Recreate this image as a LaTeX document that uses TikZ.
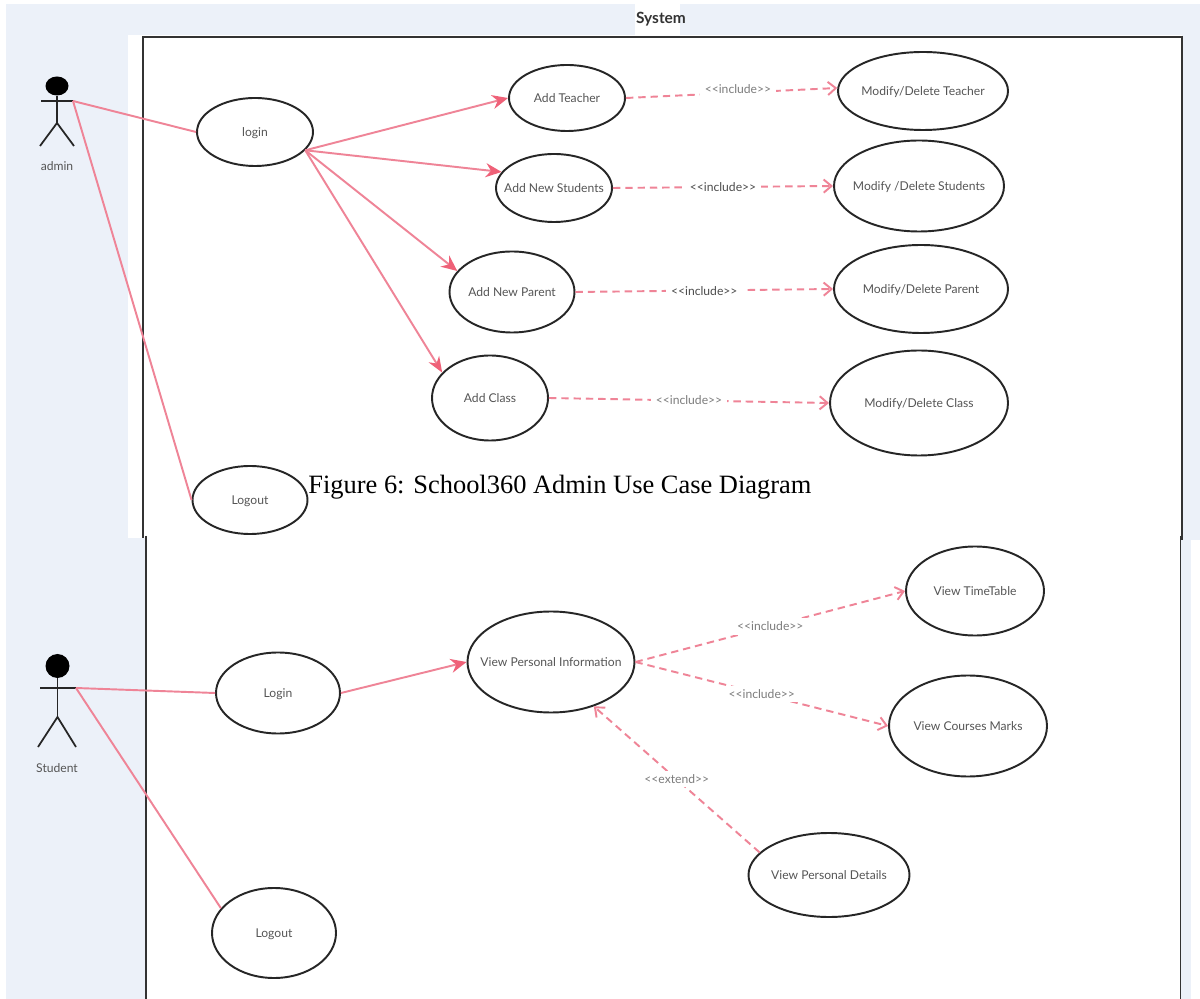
\documentclass[tikz,border=0pt]{standalone}
\usepackage{fontspec}
\setmainfont{Lato}
\newfontfamily\capfont{Liberation Serif}
\usetikzlibrary{arrows.meta,shapes.geometric}
\definecolor{pagebg}{HTML}{ECF1F9}
\definecolor{linkpink}{HTML}{EF8497}
\definecolor{tippink}{HTML}{EF6178}
\definecolor{textgrey}{HTML}{555555}
\definecolor{labelgrey}{HTML}{7C7C7C}
\tikzset{
  usecase/.style={ellipse,draw=black!85,line width=1.1pt,inner ysep=0pt,inner xsep=-8pt,text height=6.4pt,text depth=.8pt,text=textgrey,font=\fontsize{6.9}{8}\selectfont},
  actorname/.style={text=textgrey,inner sep=0pt,font=\fontsize{6.9}{8}\selectfont},
  assoc/.style={draw=linkpink,line width=1.1pt},
  gen/.style={assoc,-{Stealth[length=9pt,width=8pt,color=tippink]}},
  dep/.style={draw=linkpink,line width=1.1pt,dash pattern=on 4.2pt off 2.8pt,-{Straight Barb[length=4.5pt,width=7.5pt]}},
  deplabel/.style={fill=white,inner xsep=3pt,inner ysep=2pt,text=labelgrey,font=\fontsize{6.9}{8}\selectfont},
  stick/.style={draw=black!85,line width=1pt},
}
\begin{document}
\begin{tikzpicture}[x=0.02cm,y=-0.02cm]
      \useasboundingbox (0,0) rectangle (1200,999);
      % page
      \fill[pagebg] (6,4) rectangle (1200,999);
      \fill[white] (128,35) rectangle (1182,538);
      \fill[white] (146,538) rectangle (1180,999);
      \fill[white] (1191,540) rectangle (1200,999);
      \fill[white] (635,4) rectangle (680,35);
      \draw[black!80,line width=1.1pt] (143,538) -- (143,37) -- (1182,37) -- (1182,540);
      \draw[black!80,line width=1.1pt] (146,536) -- (146,999);
      \draw[black!80,line width=1.1pt] (1180.5,536) -- (1180.5,999);
      \node[inner sep=0pt,font=\fontsize{8.8}{10}\selectfont\bfseries,text=black!80] (system) at (661,19) {System};

      % admin actor
      \node[ellipse,fill=black,minimum width=23*0.02cm,minimum height=19*0.02cm,inner sep=0pt] (adminhead) at (57,86) {};
      \coordinate (adminhand) at (73,101);
      \coordinate (adminhip) at (57,123);
      \draw[stick] (adminhead) -- (adminhip);
      \draw[stick] (41,101) -- (adminhand);
      \draw[stick] (40,146) -- (adminhip) -- (74,146);
      \node[actorname] (admin) at (57,166) {admin};

      % student actor
      \node[circle,fill=black,minimum size=24*0.02cm,inner sep=0pt] (studenthead) at (57.5,666) {};
      \coordinate (studenthand) at (76,688);
      \coordinate (studenthip) at (57.5,717);
      \draw[stick] (studenthead) -- (studenthip);
      \draw[stick] (40,688) -- (studenthand);
      \draw[stick] (38,747) -- (studenthip) -- (76,747);
      \node[actorname] (student) at (57,768) {Student};

      % admin use cases
      \node[usecase,minimum width=116*0.02cm,minimum height=68*0.02cm] (login) at (255,132) {login};
      \node[usecase,minimum width=116*0.02cm,minimum height=66*0.02cm] (addteacher) at (567,98) {Add Teacher};
      \node[usecase,minimum width=116*0.02cm,minimum height=68*0.02cm] (addstudents) at (554,188) {Add New Students};
      \node[usecase,minimum width=125*0.02cm,minimum height=81*0.02cm] (addparent) at (512,292) {Add New Parent};
      \node[usecase,minimum width=116*0.02cm,minimum height=85*0.02cm] (addclass) at (490,398) {Add Class};
      \node[usecase,minimum width=115*0.02cm,minimum height=68*0.02cm] (logouta) at (250,500) {Logout};
      \node[usecase,minimum width=170*0.02cm,minimum height=78*0.02cm] (modteacher) at (923,91) {Modify/Delete Teacher};
      \node[usecase,minimum width=170*0.02cm,minimum height=91*0.02cm] (modstudents) at (919,186) {Modify /Delete Students};
      \node[usecase,minimum width=174*0.02cm,minimum height=88*0.02cm] (modparent) at (921,289) {Modify/Delete Parent};
      \node[usecase,minimum width=178*0.02cm,minimum height=105*0.02cm] (modclass) at (919,403) {Modify/Delete Class};

      % student use cases
      \node[usecase,minimum width=167*0.02cm,minimum height=101*0.02cm] (viewinfo) at (551,662) {View Personal Information};
      \node[usecase,minimum width=138*0.02cm,minimum height=89*0.02cm] (viewtable) at (975,591) {View TimeTable};
      \node[usecase,minimum width=158*0.02cm,minimum height=101*0.02cm] (viewmarks) at (968,726) {View Courses Marks};
      \node[usecase,minimum width=161*0.02cm,minimum height=84*0.02cm] (viewdetails) at (829,875) {View Personal Details};
      \node[usecase,minimum width=124*0.02cm,minimum height=81*0.02cm] (loginb) at (278,693) {Login};
      \node[usecase,minimum width=124*0.02cm,minimum height=90*0.02cm] (logoutb) at (274,933) {Logout};

      % admin links
      \draw[assoc] (adminhand) -- (login.west);
      \draw[assoc] (adminhand) -- (logouta.west);
      \draw[gen] (login.-20) -- (addteacher.west);
      \draw[gen] (login.-20) -- (addstudents.163);
      \draw[gen] (login.-20) -- (addparent.159);
      \draw[assoc,-{Stealth[length=9pt,width=7pt,color=tippink]}] (login.-20) -- (addclass.152);
      \draw[dep] (addteacher.east) -- node[deplabel,pos=.53,yshift=2.3pt] (inca) {<{}<include>{}>} (modteacher.178);
      \draw[dep] (addstudents.east) -- node[deplabel,text=black!70] (incb) {<{}<include>{}>} (modstudents.west);
      \draw[dep] (addparent.east) -- node[deplabel,text=black!70,yshift=-.6pt] (incc) {<{}<include>{}>} (modparent.west);
      \draw[dep] (addclass.east) -- node[deplabel] (incd) {<{}<include>{}>} (modclass.west);

      % student links
      \draw[assoc] (studenthand) -- (loginb.west);
      \draw[assoc] (studenthand) -- (logoutb.155);
      \draw[gen] (loginb.east) -- (viewinfo.west);
      \draw[dep] (viewinfo.east) -- node[deplabel] (ince) {<{}<include>{}>} (viewtable.west);
      \draw[dep] (viewinfo.east) -- node[deplabel] (incf) {<{}<include>{}>} (viewmarks.west);
      \draw[dep] (viewdetails.162) -- node[deplabel] (exta) {<{}<extend>{}>} (viewinfo.-46);

      % caption
      \node[inner sep=0pt,anchor=west,font=\capfont\fontsize{15.05}{17}\selectfont] (caption) at (308,487) {Figure 6: School360 Admin Use Case Diagram};
\end{tikzpicture}
\end{document}
